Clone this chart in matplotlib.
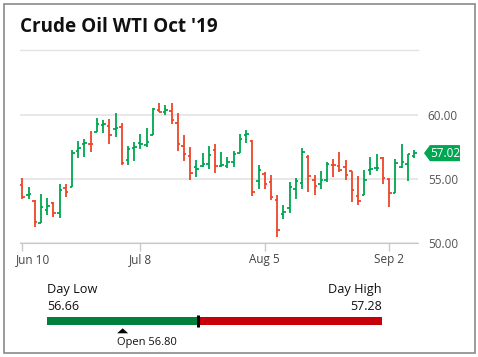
import matplotlib
matplotlib.use('Agg')
import matplotlib.pyplot as plt
import matplotlib.transforms as mtransforms
from matplotlib.lines import Line2D
from matplotlib.patches import Rectangle, Polygon
import numpy as np

plt.rcParams['font.family'] = ['Open Sans', 'DejaVu Sans']

title = "Crude Oil WTI Oct '19"
tick_pos = [0, 19, 39, 59]
tick_labels = ['Jun 10', 'Jul 8', 'Aug 5', 'Sep 2']
y_ticks = [50, 55, 60]

# daily OHLC, Jun 10 - Sep 6 2019
opens = [54.51, 53.72, 53.28, 51.59, 52.58, 53.10, 52.32, 54.27, 54.35, 57.21,
         57.75, 57.76, 58.70, 59.19, 59.11, 58.88, 59.04, 56.51, 57.45, 57.79,
         57.66, 58.44, 60.39, 60.20, 60.29, 59.35, 57.58, 56.77, 55.91, 56.04,
         56.20, 57.24, 55.99, 55.99, 56.33, 57.03, 58.41, 57.97, 54.84, 55.39,
         54.77, 53.36, 52.24, 52.71, 54.19, 54.66, 56.72, 54.92, 54.61, 54.90,
         56.07, 56.02, 55.91, 55.60, 53.67, 53.72, 55.68, 55.83, 56.67, 55.00,
         53.88, 55.94, 56.17, 56.80]
highs = [55.08, 54.38, 53.36, 53.83, 53.52, 53.20, 54.61, 54.58, 57.27, 57.97,
         58.13, 58.75, 59.77, 59.61, 59.69, 60.16, 59.38, 57.55, 57.89, 58.52,
         58.98, 60.52, 60.94, 60.81, 60.94, 60.16, 58.44, 57.50, 56.48, 57.03,
         57.58, 57.73, 57.11, 56.72, 57.16, 58.54, 58.83, 58.02, 56.07, 55.55,
         55.29, 53.72, 52.97, 54.77, 55.08, 57.42, 56.88, 55.31, 55.63, 56.33,
         56.56, 57.11, 56.48, 55.63, 55.23, 55.70, 56.69, 56.93, 56.74, 55.05,
         56.54, 57.76, 56.95, 57.28]
lows = [53.46, 53.46, 51.28, 51.54, 52.21, 52.06, 51.98, 53.62, 54.35, 56.67,
        56.74, 57.14, 58.65, 58.62, 57.76, 58.31, 56.12, 56.12, 56.43, 57.37,
        57.47, 58.44, 60.21, 60.03, 59.32, 57.21, 56.43, 54.95, 55.18, 55.91,
        55.81, 55.49, 55.96, 55.89, 55.96, 57.00, 57.84, 53.70, 54.24, 54.24,
        53.33, 50.49, 51.90, 52.37, 53.46, 54.19, 54.01, 53.78, 54.24, 54.79,
        55.18, 55.57, 54.90, 53.23, 53.00, 53.72, 55.31, 55.65, 54.58, 52.84,
        53.88, 55.83, 54.87, 56.66]
closes = [53.62, 53.80, 51.61, 52.79, 52.90, 52.32, 54.14, 53.96, 57.01, 57.40,
          57.80, 57.71, 59.27, 59.32, 58.46, 58.96, 56.22, 57.32, 57.53, 57.73,
          57.86, 60.44, 60.21, 60.39, 59.58, 57.73, 56.93, 55.44, 55.76, 56.15,
          56.85, 55.99, 56.12, 56.33, 56.93, 58.10, 58.52, 53.96, 55.68, 54.58,
          53.57, 50.99, 52.40, 54.35, 54.84, 57.11, 55.21, 54.43, 54.90, 56.15,
          56.07, 55.68, 55.31, 54.14, 53.28, 54.92, 55.76, 55.89, 55.05, 53.88,
          56.28, 56.32, 56.94, 57.02]

day_low = 56.66
day_high = 57.28
day_open = 56.80
prev_close = 56.94

green = '#00a651'
red = '#ee4528'

W, H = 478, 357
def fx(px):
    return px / W
def fy(py):
    return 1 - py / H

fig = plt.figure(figsize=(W / 100, H / 100), dpi=100)

# frame, title and rule
fig.add_artist(Rectangle((fx(4), fy(353)), fx(475) - fx(4), fy(4) - fy(353),
                         fill=False, ec='#8a8a8a', lw=1.2, transform=fig.transFigure))
fig.text(fx(20), fy(32), title, fontsize=13.6, fontweight='bold', ha='left',
         va='baseline', color='#111111')
fig.add_artist(Line2D([fx(20), fx(418)], [fy(50), fy(50)], color='#e3e3e3',
                      lw=1, transform=fig.transFigure))

# OHLC chart
ax = fig.add_axes([fx(20), fy(243), fx(418) - fx(20), fy(89.4) - fy(243)])
x = np.arange(len(closes))
c = np.array(closes)
prev = np.r_[opens[0], c[:-1]]
colors = np.where(c >= prev, green, red)
ax.vlines(x, lows, highs, colors=colors, lw=1.3)
ax.hlines(opens, x - 0.4, x, colors=colors, lw=1.3)
ax.hlines(closes, x, x + 0.4, colors=colors, lw=1.3)

ax.set_xlim(-0.37, 63.64)
ax.set_ylim(50, 62)
ax.set_yticks(y_ticks)
ax.set_yticklabels([f'{v:.2f}' for v in y_ticks])
ax.yaxis.tick_right()
ax.tick_params(axis='y', length=0, pad=7, labelsize=8.5, labelcolor='#555555')
ax.grid(axis='y', color='#e2e2e2', lw=1.1)
ax.set_axisbelow(True)
ax.set_xticks(tick_pos)
ax.set_xticklabels(tick_labels)
ax.tick_params(axis='x', length=6, width=1, color='#c8c8c8', pad=1.5,
               labelsize=8.5, labelcolor='#444444')
for s in ['top', 'left', 'right']:
    ax.spines[s].set_visible(False)
ax.spines['bottom'].set_color('#c8c8c8')
lab0 = ax.get_xticklabels()[0]
lab0.set_ha('left')
lab0.set_transform(lab0.get_transform() +
                   mtransforms.ScaledTranslation(-0.063, 0, fig.dpi_scale_trans))

# last price tag
last = closes[-1]
tr = mtransforms.blended_transform_factory(ax.transAxes, ax.transData)
hh = 0.63
ax.add_patch(Polygon([(1.015, last), (1.030, last + hh), (1.1055, last + hh),
                      (1.1055, last - hh), (1.030, last - hh)],
                     closed=True, fc=green, ec='none', transform=tr, clip_on=False))
ax.text(1.068, last, f'{last:.2f}', transform=tr, ha='center', va='center',
        color='white', fontsize=8.5)

# day range bar
ax2 = fig.add_axes([fx(47), fy(350), fx(382) - fx(47), fy(280) - fy(350)])
ax2.set_xlim(day_low, day_high)
ax2.set_ylim(70, 0)
ax2.axis('off')
ax2.barh(41, prev_close - day_low, left=day_low, height=8.3, color='#00803c')
ax2.barh(41, day_high - prev_close, left=prev_close, height=8.3, color='#c8000a')
ax2.vlines(prev_close, 35, 47, color='black', lw=2.2)
tw = (day_high - day_low) * 5.5 / 335
ax2.add_patch(Polygon([(day_open - tw, 53.3), (day_open + tw, 53.3), (day_open, 48.3)],
                      closed=True, fc='black', ec='none', clip_on=False))
ax2.text(day_open - tw, 62.7, f'Open {day_open:.2f}', ha='left', va='center',
         fontsize=8, color='#111111', clip_on=False)
ax2.text(day_low, 9, 'Day Low', ha='left', va='center', fontsize=9.2, color='#111111')
ax2.text(day_low, 26, f'{day_low:.2f}', ha='left', va='center', fontsize=9, color='#111111')
ax2.text(day_high, 9, 'Day High', ha='right', va='center', fontsize=9.2, color='#111111')
ax2.text(day_high, 26, f'{day_high:.2f}', ha='right', va='center', fontsize=9, color='#111111')

fig.savefig('out.png', dpi=100)
